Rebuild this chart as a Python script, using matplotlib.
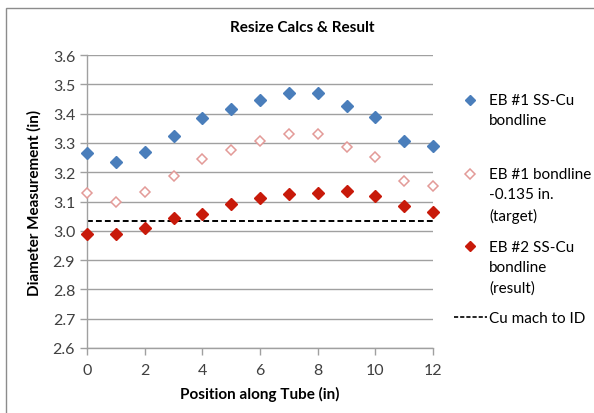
import matplotlib
matplotlib.use("Agg")
import matplotlib.pyplot as plt
from matplotlib.lines import Line2D
from matplotlib.patches import Rectangle
from matplotlib.legend_handler import HandlerLine2D

position = [0, 1, 2, 3, 4, 5, 6, 7, 8, 9, 10, 11, 12]
eb1_bondline = [3.265, 3.235, 3.270, 3.325, 3.385, 3.415, 3.445, 3.470, 3.470, 3.425, 3.390, 3.305, 3.290]
eb1_target = [3.128, 3.098, 3.134, 3.188, 3.246, 3.276, 3.306, 3.332, 3.332, 3.286, 3.252, 3.170, 3.152]
eb2_result = [2.990, 2.990, 3.008, 3.042, 3.058, 3.093, 3.112, 3.124, 3.130, 3.137, 3.118, 3.085, 3.063]
cu_mach_to_id = 3.032

labels = ["EB #1 SS-Cu\nbondline", "EB #1 bondline\n-0.135 in.\n(target)",
          "EB #2 SS-Cu\nbondline\n(result)", "Cu mach to ID"]
x_ticks = [0, 2, 4, 6, 8, 10, 12]
y_ticks = [2.6, 2.7, 2.8, 2.9, 3.0, 3.1, 3.2, 3.3, 3.4, 3.5, 3.6]

plt.rcParams['font.family'] = ['Lato', 'DejaVu Sans']

fig = plt.figure(figsize=(5.94, 4.14), dpi=100)
ax = fig.add_axes([87/594, 1-349/414, (433-87)/594, (349-56)/414])

blue = '#4A7EBB'
red = '#C81A0A'
pink = '#E39A98'
grid = '#A0A0A0'

ms = 6
ax.plot(position, eb1_bondline, linestyle='none', marker='D', markersize=ms,
        color=blue, markeredgecolor=blue, clip_on=False, zorder=3)
ax.plot(position, eb1_target, linestyle='none', marker='D', markersize=ms - 0.5,
        markerfacecolor='white', markeredgecolor=pink, markeredgewidth=1.1, clip_on=False, zorder=3)
ax.plot(position, eb2_result, linestyle='none', marker='D', markersize=ms,
        color=red, markeredgecolor=red, clip_on=False, zorder=3)
ax.axhline(cu_mach_to_id, color='black', linestyle=(0, (3, 1.6)), linewidth=1.4, zorder=2)

ax.set_xlim(0, 12)
ax.set_ylim(2.6, 3.6)
ax.set_xticks(x_ticks)
ax.set_yticks(y_ticks)
ax.set_yticklabels([f"{v:.1f}" for v in y_ticks])
ax.yaxis.grid(True, color=grid, linewidth=1)
ax.set_axisbelow(True)
for s in ['top', 'right']:
    ax.spines[s].set_visible(False)
for s in ['left', 'bottom']:
    ax.spines[s].set_color(grid)
    ax.spines[s].set_linewidth(1)
ax.tick_params(axis='both', colors=grid, labelcolor='#404040', labelsize=11.5,
               direction='out', length=5, width=1)
ax.tick_params(axis='x', pad=6)

ax.set_xlabel("Position along Tube (in)", fontsize=11, fontweight='bold', labelpad=6)
ax.set_ylabel("Diameter Measurement (in)", fontsize=11, fontweight='bold', labelpad=8)
fig.text(302/594, 1-28/414, "Resize Calcs & Result", fontsize=11, fontweight='bold',
         ha='center', va='center')


class TopAlignedHandler(HandlerLine2D):
    def __init__(self, shift_pt=0.0, **kw):
        super().__init__(**kw)
        self.shift_pt = shift_pt

    def create_artists(self, legend, orig_handle, xdescent, ydescent, width, height,
                       fontsize, trans):
        return super().create_artists(legend, orig_handle, xdescent,
                                      ydescent - 2 * self.shift_pt, width, height,
                                      fontsize, trans)


handles = [
    Line2D([], [], linestyle='none', marker='D', markersize=5, color=blue),
    Line2D([], [], linestyle='none', marker='D', markersize=5, markerfacecolor='white',
           markeredgecolor=pink, markeredgewidth=1.1),
    Line2D([], [], linestyle='none', marker='D', markersize=5, color=red),
    Line2D([], [], color='black', linestyle=(0, (2.5, 1.2)), linewidth=1.2),
]
first_line_y = [103, 177, 250, 321]
line_px = 21
for h, lab, yc in zip(handles, labels, first_line_y):
    n = lab.count("\n")
    shift_pt = n * line_px / 2 * 0.72
    leg = fig.legend([h], [lab], loc='upper left',
                     bbox_to_anchor=(454/594, 1 - (yc - 9)/414),
                     frameon=False, fontsize=11, handlelength=2.15,
                     handletextpad=0.15, borderaxespad=0, borderpad=0,
                     handler_map={h: TopAlignedHandler(shift_pt=shift_pt)})
    for t in leg.get_texts():
        t.set_linespacing(1.55)

fig.patches.append(Rectangle((6/594, -0.05), 1.1, 1 - 9/414 + 0.05, transform=fig.transFigure,
                             fill=False, edgecolor='#8C8C8C', linewidth=1))

fig.savefig("out.png", dpi=100)
